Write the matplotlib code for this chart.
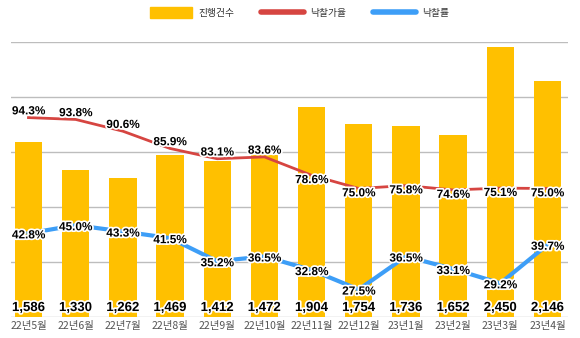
import numpy as np
import matplotlib.pyplot as plt
import matplotlib.patheffects as pe
from matplotlib.patches import Patch
from matplotlib.lines import Line2D

# 데이터
months = ['22년5월', '22년6월', '22년7월', '22년8월', '22년9월', '22년10월',
          '22년11월', '22년12월', '23년1월', '23년2월', '23년3월', '23년4월']
cases = [1586, 1330, 1262, 1469, 1412, 1472, 1904, 1754, 1736, 1652, 2450, 2146]
bid_rate = [94.3, 93.8, 90.6, 85.9, 83.1, 83.6, 78.6, 75.0, 75.8, 74.6, 75.1, 75.0]
win_rate = [42.8, 45.0, 43.3, 41.5, 35.2, 36.5, 32.8, 27.5, 36.5, 33.1, 29.2, 39.7]

c_bar = '#FFC000'
c_red = '#D64541'
c_blue = '#3D9EF7'
kr = ['Noto Sans CJK KR', 'DejaVu Sans']
num = ['Liberation Sans', 'DejaVu Sans']
outline = [pe.withStroke(linewidth=2.5, foreground='white')]

fig = plt.figure(figsize=(5.8, 3.38), dpi=100)
ax = fig.add_axes([0.019, 0.062, 0.96, 0.815])
x = np.arange(len(months))

# 막대 (진행건수)
ax.bar(x, cases, width=0.58, color=c_bar, zorder=2)
ax.set_ylim(0, 2500)
ax.set_yticks(np.arange(0, 2501, 500))
ax.set_xlim(-0.37, 11.43)
ax.grid(axis='y', color='#BDBDBD', linewidth=1)
ax.set_axisbelow(True)
ax.set_xticks(x, months, fontsize=7.5, family=kr)
for s in ax.spines.values():
    s.set_visible(False)

# 낙찰가율 (빨강)
ax2 = ax.twinx()
ax2.plot(x, bid_rate, color=c_red, linewidth=2, zorder=3)
ax2.set_ylim(40, 115)
# 낙찰률 (파랑)
ax3 = ax.twinx()
ax3.plot(x, win_rate, color=c_blue, linewidth=3, zorder=3)
ax3.set_ylim(20, 95)
for a in (ax2, ax3):
    a.set_xlim(-0.37, 11.43)
    a.axis('off')

# twinx 이후에 눈금 정리
ax.tick_params(axis='y', left=False, right=False, labelleft=False, labelright=False)
ax.tick_params(axis='x', length=0, pad=3, colors='#555555')

# 라벨
for i, v in enumerate(cases):
    ax3.annotate(f'{v:,}', (i, 0), xycoords=('data', 'axes fraction'),
                 xytext=(0, 6.5), textcoords='offset points', ha='center', va='center',
                 fontsize=9.5, fontweight='bold', family=num, path_effects=outline)
for i, v in enumerate(bid_rate):
    dy = 4.5 if i < 6 else -3.5
    ax3.annotate(f'{v:.1f}%', (i, v), xycoords=ax2.transData, xytext=(0, dy),
                 textcoords='offset points', ha='center', va='center',
                 fontsize=8.5, fontweight='bold', family=num, path_effects=outline)
for i, v in enumerate(win_rate):
    ax3.annotate(f'{v:.1f}%', (i, v), xytext=(0, -1.5),
                 textcoords='offset points', ha='center', va='center',
                 fontsize=8.5, fontweight='bold', family=num, path_effects=outline)

# 범례
handles = [Patch(color=c_bar),
           Line2D([], [], color=c_red, linewidth=4, solid_capstyle='round'),
           Line2D([], [], color=c_blue, linewidth=4, solid_capstyle='round')]
fig.legend(handles, ['진행건수', '낙찰가율', '낙찰률'], loc='center',
           bbox_to_anchor=(0.516, 0.962), ncol=3, frameon=False,
           prop={'family': kr, 'size': 7}, labelcolor='#333333',
           handlelength=4.4, handleheight=1.4, handletextpad=0.6, columnspacing=2.8)

plt.savefig('out.png', dpi=100)
